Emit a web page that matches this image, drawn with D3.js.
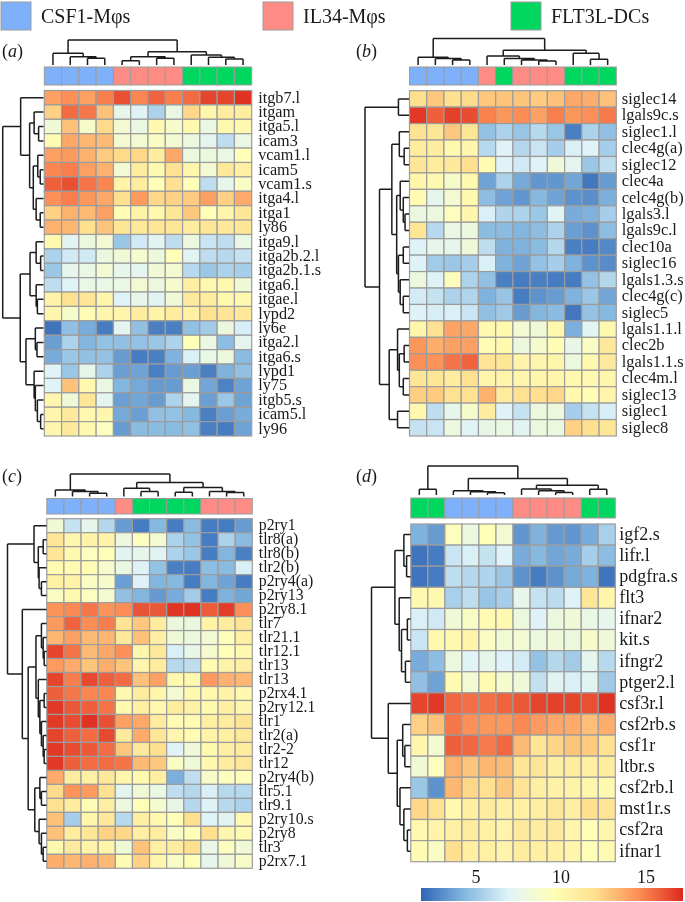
<!DOCTYPE html>
<html><head><meta charset="utf-8">
<script src="https://cdnjs.cloudflare.com/ajax/libs/d3/7.8.5/d3.min.js"></script>
<style>html,body{margin:0;padding:0;background:#fff}svg{display:block;filter:blur(.35px)}text{font-family:"Liberation Serif",serif;fill:#1a1a1a}</style>
</head><body><svg id="c" width="685" height="902"></svg>
<script>
const groups=["CSF1-Mφs","IL34-Mφs","FLT3L-DCs"];
const genesA=["itgb7.l","itgam","itga5.l","icam3","vcam1.l","icam5","vcam1.s","itga4.l","itga1","ly86","itga9.l","itga2b.2.l","itga2b.1.s","itga6.l","itgae.l","lypd2","ly6e","itga2.l","itga6.s","lypd1","ly75","itgb5.s","icam5.l","ly96"];
const valuesA=[
[14,14.5,14,15,16.2,14.8,15.7,15,15.5,16.5,16.5,17],
[12.5,15.5,15.2,13,7.5,7,5.5,7.8,12.3,10.3,11,11],
[8.3,13,8.8,12.2,8.5,7.8,10,8.8,10,7.8,10,10],
[9.8,13.8,13.3,13.2,8.5,8.5,9,8.5,8,7.3,6,7.8],
[14,14.2,13.5,12.7,12.2,12.3,11,13.8,8,8,7.7,9.5],
[14.8,15,14,13.5,8.4,11,10,11.8,10.3,8.5,11.3,10.7],
[15.8,16.2,15.3,14.8,10.5,11,9.5,11.8,9.5,6,7.5,9],
[14.5,15,14.3,13.8,12,14.2,12.3,12.5,12.7,14,12.5,13.7],
[12.5,13.5,13.2,14,9.7,10.5,10,11.5,12.8,9.5,10.3,11.5],
[13.5,13.3,12,12.9,11.5,11.3,11.5,11.5,11,11.5,11.3,11.5],
[10,7.2,8,8.5,5,6.5,7.2,6,8,6.3,6,7.7],
[5.5,6.5,6.5,8,8.3,8.7,8,9.5,7.2,6,5.8,6.2],
[5,7.5,7.8,8.4,7.5,7.3,8.3,8.5,5.8,5,5.5,5.3],
[6,7,7.7,7.7,7.8,8.5,8,8.7,10.8,10,10,8.3],
[10.5,11.8,11.5,10.3,7,7.5,7.2,8.3,11.2,11,10,10],
[10.2,8.8,9.7,10.2,10.3,11,10.5,11,10.7,11.8,11.7,11.3],
[2.3,4.7,4,2.5,7.3,4.7,2.6,2.6,4.7,5.2,8,6.7],
[3.6,5.5,4.3,4.8,4.7,4.8,5,5.5,9.5,7.8,4.6,7.3],
[4,5,4.7,4.8,3.5,2.5,2.6,4.2,6.8,7.7,8,4.5],
[7,5,7.5,5.5,3.6,3.7,2.6,3.5,3.6,2.6,4.2,4.7],
[7,13,10,7.8,4.3,3.9,3.5,3.5,7.8,3.8,2.7,3.7],
[10.2,8.3,11.5,7.3,3.6,3.8,3.5,5.5,7.3,3.6,5,3.7],
[10.3,11.2,10,10.2,3.9,3.6,4.7,4.8,4.4,2.6,3.6,4],
[10.2,11.3,10,9.2,3.5,4.5,4.5,4.5,4.7,2.6,2.5,3.7]];
const annotA=[0,0,0,0,1,1,1,1,2,2,2,2];
const colTreeA=[1,[.47,0,[.33,1,[.27,2,3]]],[.53,[.33,[.17,4,5],[.27,6,7]],[.4,8,[.31,9,[.24,10,11]]]]];
const rowTreeA=[1,[.56,0,[.34,[.23,1,[.12,2,3]],[.25,[.14,4,[.08,5,6]],[.18,7,[.08,8,9]]]]],[.57,[.33,[.18,10,[.07,11,12]],[.18,13,[.15,14,15]]],[.43,[.2,16,[.16,17,18]],[.23,19,[.2,20,[.15,21,[.07,22,23]]]]]]];

const genesB=["siglec14","lgals9c.s","siglec1.l","clec4g(a)","siglec12","clec4a","celc4g(b)","lgals3.l","lgals9c.l","clec10a","siglec16","lgals1.3.s","clec4g(c)","siglec5","lgals1.1.l","clec2b","lgals1.1.s","clec4m.l","siglec13","siglec1","siglec8"];
const valuesB=[
[12,12.8,12,12.2,12.8,12.9,12.9,12.7,13,13.8,13.6,13],
[16.8,15.8,16.6,16.3,14.9,14.3,14.6,14,15,14.3,14.5,15.1],
[11.8,11.5,12.8,11.5,4.8,5.5,4.9,5.8,5,2.6,5.5,4.7],
[11,11,10,10.2,5.8,7,5.7,6.3,5.3,6.8,7,5.3],
[11.5,11,11.3,12,9.8,7,6.5,7,8.2,7.3,5,6],
[10.3,10,8.8,10,3.7,5.5,3.9,3.3,3.3,3.8,2.4,3.5],
[9.8,7.4,8.5,10,4.6,3.7,3.3,4.4,3.7,3.2,3.1,4.1],
[7.9,8,9.3,10.2,6.8,5.6,5.5,5,7,4,4.2,5.3],
[11.5,5.8,7.8,7.9,4.5,4.5,4.3,4.6,5.5,3.6,3.2,4.6],
[6.9,7.5,7.5,8.2,6,4.2,4.2,4.5,5.7,2.6,2.5,2.9],
[6.9,5.2,5,5.3,6.8,4.2,3.7,4.8,5.3,4.2,3.2,3],
[8,6.9,9.3,5.5,4.7,2.6,2.5,2.6,2.5,2.5,4.8,5.7],
[6.6,6.2,5.5,5.6,4.2,4.9,2.5,3.2,3.5,4.2,5,3.8],
[6.9,6.7,6.8,6.3,4.7,5.1,3.5,4.3,4.5,2.4,4.8,4.4],
[10.3,11.8,13.9,13.8,10,10,8.5,8.2,10,4.1,7.2,10],
[14.3,13.6,14,14,9.7,10,8,8.7,9.7,7.6,9,11.3],
[14.5,14.4,15.3,15.7,11.7,11.5,10.4,10.2,10.3,8,10,11.2],
[11.5,11.5,11,11.8,10.3,10.4,10.3,10.3,10.3,10,10,10.2],
[12.6,12.7,11.8,11.9,13.5,11.1,11.8,12,12.3,10.1,9.7,10.4],
[10,6,7.5,8.8,11,7,6.2,8,8,5.3,6.2,6.7],
[6.2,6.3,8,7,7.6,7.8,7.2,8,8,12.5,12,11.5]];
const annotB=[0,0,0,0,1,2,1,1,1,2,2,2];
const colTreeB=[1,[.29,0,[.25,1,[.19,2,3]]],[.56,[.34,4,[.25,5,[.19,6,[.15,7,8]]]],[.44,9,[.22,10,11]]]];
const rowTreeB=[1,[.24,0,1],[.67,[.39,[.22,2,[.11,3,4]],[.28,[.2,5,[.13,6,[.09,7,8]]],[.24,[.13,9,10],[.2,11,[.13,12,13]]]]],[.45,[.26,14,[.22,[.11,15,16],[.13,17,18]]],[.26,19,20]]]];

const genesC=["p2ry1","tlr8(a)","tlr8(b)","tlr2(b)","p2ry4(a)","p2ry13","p2ry8.1","tlr7","tlr21.1","tlr12.1","tlr13","tlr13","p2rx4.1","p2ry12.1","tlr1","tlr2(a)","tlr2-2","tlr12","p2ry4(b)","tlr5.1","tlr9.1","p2ry10.s","p2ry8","tlr3","p2rx7.1"];
const valuesC=[
[8.3,6.2,7.5,5.7,3.5,2.5,4.4,2.5,4.5,2.5,2.5,3.5],
[11.5,10.2,10.5,10.5,8,9.2,8.5,5.5,4.8,2.5,5.5,4.5],
[11.5,10,9.3,9.5,7.2,7.5,7.2,5.5,5,2.5,4.3,2.6],
[9.8,9.8,9.8,8.7,7.8,6.9,4.8,2.6,2.5,4.6,4.5,6.8],
[10.7,10.5,9,8.8,3.6,6.9,4.3,4.4,2.5,4.3,3.7,2.5],
[9,10,9.2,8.5,4.7,4.3,3.4,4,5.2,2.5,4.2,3.8],
[14.4,14.7,15.2,14.4,14.6,16.1,16,16.9,17,15.9,16.7,14.5],
[14.2,15.7,14.6,15,11.7,12.8,11,8,8,10.5,11,11.6],
[13.3,14,13.2,13.3,11.3,13,10.8,8.3,8,8.4,9.4,10.8],
[16.5,15.3,13.2,13.8,14.5,10.2,11.3,6.8,7.6,8.7,9.5,10],
[14.2,13.7,12.9,13.6,12.9,10.2,11,5.8,6,9.8,10.5,10.8],
[16.5,15,16.4,15.8,15.5,13,14,10,10,14.2,13.5,13.3],
[15.8,15.2,14.8,14.8,10,11,10.3,8.5,10,10,10.5,10.1],
[16.8,16,15.8,15.3,10,10.8,10.1,11,10.6,10,10.8,10.2],
[16.8,16.3,17,16.2,14,13.8,11,9.8,9.8,10.8,11,11.6],
[16.5,15.8,15.5,16.4,11.2,13.7,11.5,10.2,9.8,10.5,10.8,11.3],
[16.8,16.3,16,15.5,12.8,11.2,12,7,8.2,10,10.8,11],
[16.8,15.8,15.5,15.5,15.3,13.2,12.8,9,8.3,10.1,11,11.4],
[13.7,11,10.7,11.3,10.3,10,10.8,4.1,6,8.8,9.2,9.3],
[12.2,14.4,14.2,11.8,7.3,8.3,7.8,6,5.7,6.8,5.8,5.8],
[11.8,11,9.7,10.9,8,9.6,8.6,7.6,5.7,6.9,5.8,5.5],
[13,5.3,10.3,11.3,5.8,10.9,10,9.6,12,7,7.2,10],
[13,11,11.5,12.5,12.3,10.8,11,9,9.6,12,10.2,9.9],
[10,11.2,10.4,10.3,8.3,13,10.8,11,12,7.7,9.2,8.3],
[13.6,13.3,13.5,13.2,9.8,12.5,10.2,9,9.6,7.5,8.2,8.9]];
const annotC=[0,0,0,0,1,2,2,2,2,1,1,1];
const colTreeC=[1,[.29,0,[.22,1,[.15,2,3]]],[.62,[.37,4,[.22,5,6]],[.4,[.19,7,8],[.22,9,[.18,10,11]]]]];
const rowTreeC=[1,[.32,0,[.21,[.085,1,2],[.19,3,[.13,4,5]]]],[.62,6,[.47,[.27,[.13,7,[.085,8,[.06,9,10]]],[.21,11,[.17,[.06,12,13],[.13,14,[.085,15,[.06,16,17]]]]]],[.3,[.17,18,[.13,19,20]],[.19,21,[.13,22,[.085,23,24]]]]]]];

const genesD=["igf2.s","lifr.l","pdgfra.s","flt3","ifnar2","kit.s","ifngr2","ptger2.l","csf3r.l","csf2rb.s","csf1r","ltbr.s","csf2rb.l","mst1r.s","csf2ra","ifnar1"];
const valuesD=[
[4.2,3.5,9.3,8,9.5,8.5,3.3,4.2,3.4,3.3,4,5.4],
[2.3,2.5,6.3,6.8,6.2,6.9,4,4.4,3.8,4,5.3,4.6],
[2.3,2.5,6,5.7,5.6,5,3.2,2.5,3.2,3.9,4.2,2.3],
[10,10,5.4,6,4.9,5.3,7.5,6.2,5.9,6.9,11.5,10.3],
[6.8,6.5,8.3,9,9.8,10,8,6.9,8,8.3,7.7,7.5],
[6.3,10,10,10.4,9,8.4,8.4,8,8.2,8,8.8,8.2],
[4,4.6,8,7,7.5,6.9,6.6,4.8,5.7,5.2,7.3,5.8],
[4.7,3.7,9.8,8.4,9.8,8.7,8.2,6.1,7.2,6.8,7.2,5.1],
[16.5,16.8,15.6,15.4,15.4,15.7,16,16.5,16.6,16.5,16.2,17],
[12.5,13,15.2,14.5,14.3,14.3,14.7,14.2,13.8,13.7,13.1,13.6],
[10.2,8.5,15.8,15.6,15.1,15.6,13.2,11.7,12.4,12.9,12.7,11.9],
[8.3,9.2,13.5,12.9,13.3,13.2,11.5,11.6,10.8,11,10.8,11],
[5,3.2,13.3,12.3,11.8,12.8,11.7,10.8,10.6,10.5,10.2,10],
[12.3,11.8,10,10.8,11,10.7,10.7,10.9,11.4,10.8,12,11.7],
[10.1,10.4,10.7,11,10.7,10.4,11.2,11,11.2,10.3,9.5,10.2],
[9.8,9,12,10.8,10.7,10.4,11,10.8,10.7,10.3,9.5,9.9]];
const annotD=[2,2,0,0,0,0,1,1,1,1,2,2];
const colTreeD=[1,[.2,0,1],[.57,[.15,2,[.115,3,[.08,4,5]]],[.34,[.21,6,[.15,7,[.09,8,9]]],[.2,10,11]]]];
const rowTreeD=[1,[.4,[.17,0,[.1,1,2]],[.29,3,[.23,[.08,4,5],[.13,6,7]]]],[.57,8,[.34,[.2,9,[.145,10,11]],[.27,12,[.17,13,[.08,14,15]]]]]];

const colorTicks=[5,10,15];
const palette=["#2f65b5","#85b8e0","#dff3f8","#ffffb8","#fedf8e","#fc8c55","#dd2a1e"];
const vMin=1.8,vMax=17.2;
const color=d3.scaleLinear().domain(d3.range(7).map(i=>vMin+i*(vMax-vMin)/6)).range(palette).clamp(true);
const annotColor=d3.scaleOrdinal().domain([0,1,2]).range(["#7fb1fb","#ff8c84","#00d75f"]);
const GRID="#9c9c9c";
const svg=d3.select("#c");

function drawTree(g,tree,leafPos,hPos,horizontal){
  const p=d3.path();
  const seg=(a,b,c,d)=>{ if(horizontal){p.moveTo(b,a);p.lineTo(d,c);} else {p.moveTo(a,b);p.lineTo(c,d);} };
  (function walk(n){
    if(typeof n==="number") return {c:leafPos(n),h:0};
    const l=walk(n[1]),r=walk(n[2]),y=hPos(n[0]);
    seg(l.c,hPos(l.h),l.c,y);seg(r.c,hPos(r.h),r.c,y);seg(l.c,y,r.c,y);
    return {c:(l.c+r.c)/2,h:n[0]};
  })(tree);
  g.append("path").attr("d",p.toString()).attr("fill","none").attr("stroke","#1c1c1c").attr("stroke-width",1.5);
}

function panel(o){
  const g=svg.append("g");
  const x=d3.scaleBand().domain(d3.range(12)).range([o.x0,o.x1]);
  const y=d3.scaleBand().domain(d3.range(o.genes.length)).range([o.y0,o.y1]);
  g.selectAll(".a").data(o.annot).join("rect").attr("x",(d,i)=>x(i)).attr("y",o.ay0).attr("width",x.bandwidth()).attr("height",o.ay1-o.ay0)
    .attr("fill",d=>annotColor(d)).attr("stroke",GRID).attr("stroke-width",1);
  o.values.forEach((row,r)=>{
    g.selectAll(null).data(row).join("rect").attr("x",(d,i)=>x(i)).attr("y",y(r)).attr("width",x.bandwidth()).attr("height",y.bandwidth())
      .attr("fill",d=>color(d)).attr("stroke",GRID).attr("stroke-width",1.2);
  });
  const ax=g.append("g").attr("transform",`translate(${o.x1+o.lab},0)`).call(d3.axisRight(y).tickSize(0).tickPadding(0).tickFormat(i=>o.genes[i]));
  ax.select(".domain").remove();
  ax.selectAll("text").attr("font-size",o.fs).style("font-family",'"Liberation Serif",serif').attr("fill","#1a1a1a").attr("dy","0.3em");
  drawTree(g,o.colTree,i=>x(i)+x.bandwidth()/2,d3.scaleLinear().domain([0,1]).range([o.ct0,o.ct1]),false);
  drawTree(g,o.rowTree,i=>y(i)+y.bandwidth()/2,d3.scaleLinear().domain([0,1]).range([o.rt0,o.rt1]),true);
  const t=g.append("text").attr("x",o.lx).attr("y",o.ly).attr("font-size",18);
  t.append("tspan").text("(");t.append("tspan").attr("font-style","italic").text(o.tag);t.append("tspan").text(")");
}
panel({genes:genesA,values:valuesA,annot:annotA,colTree:colTreeA,rowTree:rowTreeA,tag:"a",x0:44.3,x1:251.7,y0:90.5,y1:436,ay0:67,ay1:85,ct0:65,ct1:40,rt0:43.5,rt1:2.7,lab:6.5,fs:16.2,lx:2,ly:57});
panel({genes:genesB,values:valuesB,annot:annotB,colTree:colTreeB,rowTree:rowTreeB,tag:"b",x0:409.5,x1:616.3,y0:90.7,y1:436,ay0:67,ay1:85,ct0:65,ct1:38.5,rt0:409,rt1:365,lab:5.5,fs:16.4,lx:356,ly:57});
panel({genes:genesC,values:valuesC,annot:annotC,colTree:colTreeC,rowTree:rowTreeC,tag:"c",x0:46.8,x1:252.3,y0:518.7,y1:868.3,ay0:498.5,ay1:514,ct0:496.5,ct1:474,rt0:46.5,rt1:7.5,lab:6.5,fs:15.8,lx:2,ly:482});
panel({genes:genesD,values:valuesD,annot:annotD,colTree:colTreeD,rowTree:rowTreeD,tag:"d",x0:410.8,x1:615.3,y0:524,y1:861.7,ay0:498,ay1:518,ct0:495,ct1:466,rt0:410.5,rt1:371.5,lab:4,fs:18,lx:356,ly:482});

// legend
const legendX=d3.scaleOrdinal().domain(groups).range([1,263,511]);
groups.forEach((name,i)=>{
  svg.append("rect").attr("x",legendX(name)).attr("y",2).attr("width",30).attr("height",28).attr("fill",annotColor(i)).attr("stroke",GRID).attr("stroke-width",1);
  svg.append("text").attr("x",legendX(name)+40).attr("y",23).attr("font-size",20).text(name);
});

// colour bar
const barX=d3.scaleLinear().domain([vMin,vMax]).range([421,683]);
const defs=svg.append("defs");
const grad=defs.append("linearGradient").attr("id","cb");
palette.forEach((c,i)=>grad.append("stop").attr("offset",i/6).attr("stop-color",c));
svg.append("rect").attr("x",barX(vMin)).attr("y",888).attr("width",barX(vMax)-barX(vMin)).attr("height",13).attr("fill","url(#cb)");
const cb=svg.append("g").attr("transform","translate(0,886)").call(d3.axisTop(barX).tickValues(colorTicks).tickSize(0).tickPadding(3));
cb.select(".domain").remove();
cb.selectAll("text").attr("font-size",18).style("font-family",'"Liberation Serif",serif').attr("fill","#1a1a1a");
</script></body></html>
